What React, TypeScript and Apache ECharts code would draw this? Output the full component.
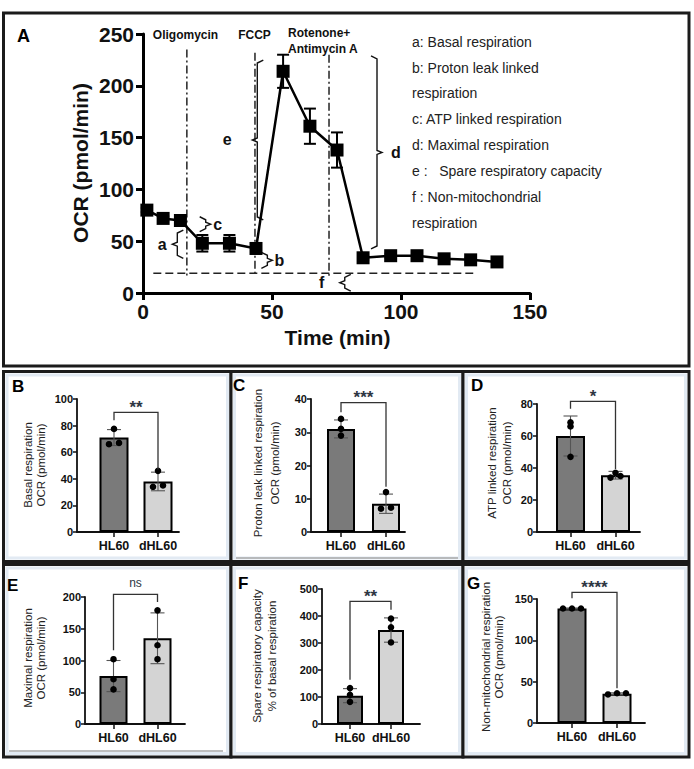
import React, { useEffect, useRef } from "react";
import * as echarts from "echarts";

const FONT = "'Liberation Sans', Arial, Helvetica, sans-serif";

// ---------- Panel A data ----------
const timeMin = [1.5, 7.8, 14.5, 23, 33.5, 43.8, 54.3, 64.7, 75.2, 85.3, 96, 106.2, 116.7, 127, 137.2];
const ocrMean = [80, 72, 70, 48, 48, 43, 214, 161, 138, 34, 36, 36, 33, 32, 30];
const ocrErr = [2, 2, 2, 8, 8, 5, 16, 17, 17, 2, 2, 2, 2, 2, 2];
const injectionNames = ["Oligomycin", "FCCP", "Rotenone+", "Antimycin A"];
const injectionTimes = [17, 43.4, 72.1];
const injectionTop = [235, 232, 230];
const injectionBottom = [17, 16, 16];
const nonMitoLevel = 19;
const nonMitoSpan = [4, 128];
const bracketLetters = ["a", "b", "c", "d", "e", "f"];
const bracketTime = [13.3, 48.2, 24.3, 90.7, 44.3, 78.2];
const bracketLow = [33.5, 23.8, 59.2, 42.5, 70.5, 1.9];
const bracketHigh = [60.8, 39.3, 73.6, 228.8, 224.9, 18];
const legendLines = [
  "a: Basal respiration",
  "b: Proton leak linked",
  "respiration",
  "c: ATP linked respiration",
  "d: Maximal respiration",
  "e :   Spare respiratory capacity",
  "f : Non-mitochondrial",
  "respiration",
];

// ---------- Panels B-G data ----------
const groups = ["HL60", "dHL60"];
const basalMean = [71, 38];
const basalSd = [6, 7];
const basalPoints = [[77.5, 66, 67], [46, 34, 35]];
const protonMean = [31, 8.5];
const protonSd = [2.7, 2.9];
const protonPoints = [[34, 31, 29], [12, 7, 7.3]];
const atpMean = [60, 35.5];
const atpSd = [12.5, 2.4];
const atpPoints = [[68.5, 66, 47], [37, 34, 35]];
const maximalMean = [75.5, 135];
const maximalSd = [24.5, 40];
const maximalPoints = [[102, 70.5, 54.5], [179, 124, 102]];
const spareMean = [105, 348];
const spareSd = [26, 45];
const sparePoints = [[133, 108, 82], [390, 358, 302]];
const nonMitoMean = [138.5, 35.5];
const nonMitoSd = [0.6, 1];
const nonMitoPoints = [[138.5, 138.5, 138.5], [34.5, 36, 36]];
const sigLabels = ["**", "***", "*", "ns", "**", "****"];
const sigLevels = [
  [84, 90, 47],
  [36, 38.9, 13.6],
  [77, 81.6, 39.4],
  [116, 204, 192],
  [164, 454, 423],
  [151, 158, 42],
];
const yMaxes = [100, 40, 80, 200, 500, 150];
const yIntervals = [20, 10, 20, 50, 100, 50];
const yTitles = [
  ["Basal respiration", "OCR (pmol/min)"],
  ["Proton leak linked respiration", "OCR (pmol/min)"],
  ["ATP linked respiration", "OCR (pmol/min)"],
  ["Maximal respiration", "OCR (pmol/min)"],
  ["Spare respiratory capacity", "% of basal respiration"],
  ["Non-mitochondrial respiration", "OCR (pmol/min)"],
];
const panelLetters = ["B", "C", "D", "E", "F", "G"];

const panelMeans = [basalMean, protonMean, atpMean, maximalMean, spareMean, nonMitoMean];
const panelSds = [basalSd, protonSd, atpSd, maximalSd, spareSd, nonMitoSd];
const panelPoints = [basalPoints, protonPoints, atpPoints, maximalPoints, sparePoints, nonMitoPoints];

// ---------- Layout (pixels) ----------
const layouts = [
  { xL: 77, xR: 179, c0: 114, c1: 158, top: 399, bottom: 532, barW: 29, t1: [28, 465], t2: [40.5, 465], letter: [12, 378], jit: [[0, -5, 5], [0, -5, 5]] },
  { xL: 311, xR: 405, c0: 341, c1: 386, top: 399, bottom: 532, barW: 28, t1: [258, 463], t2: [275, 463], letter: [233, 377], jit: [[0, 0, 0], [0, -5, 5]] },
  { xL: 537, xR: 640, c0: 570.5, c1: 615.5, top: 404, bottom: 532, barW: 29, t1: [491.5, 463], t2: [506.5, 463], letter: [471, 377], jit: [[0, 0, 0], [0, -5, 5]] },
  { xL: 85, xR: 185, c0: 113.5, c1: 157.5, top: 597, bottom: 724, barW: 28, t1: [27.5, 658], t2: [41, 658], letter: [7, 577], jit: [[0, 0, 0], [0, 0, 0]] },
  { xL: 322, xR: 420, c0: 350, c1: 391, top: 589, bottom: 724, barW: 26, t1: [257, 656], t2: [272, 656], letter: [238, 575], jit: [[0, 0, 0], [0, 0, 0]] },
  { xL: 537, xR: 645, c0: 572, c1: 617, top: 599, bottom: 723, barW: 29, t1: [486, 657], t2: [499, 657], letter: [467, 575], jit: [[-9, 0, 9], [-9, 0, 9]] },
];
const barColors = ["#7a7a7a", "#d4d4d4"];
const bracketSide = [-1, 1, 1, 1, -1, -1];
const bracketLabelOffset = [15, 12, 12, 19, 30, 23];
const legendY = [41.7, 68.3, 93.3, 119.3, 145, 170.7, 196.7, 223.3];

function buildOption() {
  const grids: any[] = [{ left: 143, top: 34, width: 387, height: 259 }];
  const xAxes: any[] = [
    {
      gridIndex: 0, type: "value", min: 0, max: 150, interval: 50,
      axisLine: { show: true, onZero: false, lineStyle: { color: "#000", width: 3 } },
      axisTick: { show: true, length: 7, lineStyle: { color: "#000", width: 3 } },
      axisLabel: { fontFamily: FONT, fontWeight: "bold", fontSize: 21, color: "#111", margin: 8 },
      splitLine: { show: false },
    },
  ];
  const yAxes: any[] = [
    {
      gridIndex: 0, type: "value", min: 0, max: 250, interval: 50,
      axisLine: { show: true, onZero: false, lineStyle: { color: "#000", width: 3 } },
      axisTick: { show: true, length: 7, lineStyle: { color: "#000", width: 3 } },
      axisLabel: { fontFamily: FONT, fontWeight: "bold", fontSize: 21, color: "#111", margin: 9 },
      splitLine: { show: false },
    },
  ];

  const series: any[] = [];

  injectionTimes.forEach((t, i) => {
    series.push({
      type: "line", xAxisIndex: 0, yAxisIndex: 0, symbol: "none", silent: true,
      data: [[t, injectionTop[i]], [t, injectionBottom[i]]],
      lineStyle: { color: "#222", width: 1.5, type: [8, 3, 2, 3] }, z: 2,
    });
  });
  series.push({
    type: "line", xAxisIndex: 0, yAxisIndex: 0, symbol: "none", silent: true,
    data: [[nonMitoSpan[0], nonMitoLevel], [nonMitoSpan[1], nonMitoLevel]],
    lineStyle: { color: "#222", width: 1.6, type: [8, 4] }, z: 2,
  });
  series.push({
    type: "custom", xAxisIndex: 0, yAxisIndex: 0, z: 3,
    data: timeMin.map((t, i) => [t, ocrMean[i], ocrErr[i]]),
    renderItem: (params: any, api: any) => {
      const x = api.value(0), m = api.value(1), e = api.value(2);
      const a = api.coord([x, m + e]);
      const b = api.coord([x, m - e]);
      const st = { stroke: "#000", lineWidth: 2 };
      return {
        type: "group",
        children: [
          { type: "line", shape: { x1: a[0], y1: a[1], x2: b[0], y2: b[1] }, style: st },
          { type: "line", shape: { x1: a[0] - 6, y1: a[1], x2: a[0] + 6, y2: a[1] }, style: st },
          { type: "line", shape: { x1: b[0] - 6, y1: b[1], x2: b[0] + 6, y2: b[1] }, style: st },
        ],
      };
    },
  });
  series.push({
    type: "line", xAxisIndex: 0, yAxisIndex: 0,
    data: timeMin.map((t, i) => [t, ocrMean[i]]),
    symbol: "rect", symbolSize: 13,
    itemStyle: { color: "#000" },
    lineStyle: { color: "#000", width: 2.5 }, z: 5,
  });
  series.push({
    type: "custom", xAxisIndex: 0, yAxisIndex: 0, z: 4,
    data: bracketTime.map((t, i) => [t, bracketLow[i], bracketHigh[i]]),
    renderItem: (params: any, api: any) => {
      const i = params.dataIndex;
      const p1 = api.coord([api.value(0), api.value(2)]);
      const p2 = api.coord([api.value(0), api.value(1)]);
      const s = bracketSide[i];
      const x = p1[0];
      const mid = (p1[1] + p2[1]) / 2;
      const e = 6, tip = 5;
      return {
        type: "group",
        children: [
          {
            type: "polyline",
            shape: {
              points: [
                [x - s * e, p1[1]], [x, p1[1] + 3], [x, mid - 2], [x + s * tip, mid],
                [x, mid + 2], [x, p2[1] - 3], [x - s * e, p2[1]],
              ],
            },
            style: { stroke: "#111", lineWidth: 1.4, fill: "none" },
          },
          {
            type: "text",
            style: {
              x: x + s * bracketLabelOffset[i], y: mid, text: bracketLetters[i],
              align: "center", verticalAlign: "middle",
              font: `bold 16px ${FONT}`, fill: "#111",
            },
          },
        ],
      };
    },
  });

  const graphics: any[] = [];
  const box = (x1: number, y1: number, x2: number, y2: number, inner: boolean) => {
    graphics.push({ type: "rect", shape: { x: x1, y: y1, width: x2 - x1, height: y2 - y1 }, style: { fill: "#fff", stroke: "#1b1b1b", lineWidth: 3 }, z: -10 });
    if (inner) {
      graphics.push({ type: "rect", shape: { x: x1 + 3.5, y: y1 + 3.5, width: x2 - x1 - 7, height: y2 - y1 - 7 }, style: { fill: "none", stroke: "#e2eaf3", lineWidth: 3 }, z: -9 });
    }
  };
  box(3.5, 13, 689, 366, false);
  box(3.5, 371.5, 231, 561.5, true);
  box(231, 371.5, 463, 561.5, true);
  box(463, 371.5, 689, 561.5, true);
  box(3.5, 564.5, 231, 757, true);
  box(231, 564.5, 463, 757, true);
  box(463, 564.5, 689, 757, true);
  graphics.push({ type: "line", shape: { x1: 236, y1: 558, x2: 458, y2: 558 }, style: { stroke: "#a8a8a8", lineWidth: 1.5 }, z: -8 });
  graphics.push({ type: "line", shape: { x1: 9, y1: 751, x2: 223, y2: 751 }, style: { stroke: "#a8a8a8", lineWidth: 1.5 }, z: -8 });

  graphics.push({ type: "text", x: 17, y: 27, style: { text: "A", font: `bold 18px ${FONT}`, fill: "#000" } });
  graphics.push({ type: "text", x: 80, y: 163, rotation: Math.PI / 2, style: { text: "OCR (pmol/min)", font: `bold 21px ${FONT}`, fill: "#111", align: "center", verticalAlign: "middle" } });
  graphics.push({ type: "text", x: 337.5, y: 337, style: { text: "Time (min)", font: `bold 21px ${FONT}`, fill: "#111", align: "center", verticalAlign: "middle" } });
  graphics.push({ type: "text", x: 185.5, y: 35, style: { text: injectionNames[0], font: `bold 12px ${FONT}`, fill: "#111", align: "center", verticalAlign: "middle" } });
  graphics.push({ type: "text", x: 254.5, y: 35, style: { text: injectionNames[1], font: `bold 12px ${FONT}`, fill: "#111", align: "center", verticalAlign: "middle" } });
  graphics.push({ type: "text", x: 288, y: 33, style: { text: injectionNames[2], font: `bold 12px ${FONT}`, fill: "#111", align: "left", verticalAlign: "middle" } });
  graphics.push({ type: "text", x: 288, y: 49, style: { text: injectionNames[3], font: `bold 12px ${FONT}`, fill: "#111", align: "left", verticalAlign: "middle" } });
  legendLines.forEach((t, i) => {
    graphics.push({ type: "text", x: 412, y: legendY[i], style: { text: t, font: `14px ${FONT}`, fill: "#222", align: "left", verticalAlign: "middle" } });
  });

  layouts.forEach((L, k) => {
    const gi = k + 1;
    const ppu = L.c1 - L.c0;
    grids.push({ left: L.xL, top: L.top, width: L.xR - L.xL, height: L.bottom - L.top });
    xAxes.push({
      gridIndex: gi, type: "value",
      min: -(L.c0 - L.xL) / ppu, max: 1 + (L.xR - L.c1) / ppu,
      axisLine: { show: true, onZero: false, lineStyle: { color: "#111", width: 1.8 } },
      axisTick: { show: true, customValues: [0, 1], length: 5, lineStyle: { color: "#111", width: 1.5 } },
      axisLabel: {
        show: true, customValues: [0, 1], formatter: (v: number) => groups[Math.round(v)] ?? "",
        fontFamily: FONT, fontWeight: "bold", fontSize: 12.5, color: "#111", margin: 7,
      },
      splitLine: { show: false },
    });
    yAxes.push({
      gridIndex: gi, type: "value", min: 0, max: yMaxes[k], interval: yIntervals[k],
      axisLine: { show: true, onZero: false, lineStyle: { color: "#111", width: 1.8 } },
      axisTick: { show: true, length: 4, lineStyle: { color: "#111", width: 1.5 } },
      axisLabel: { fontFamily: FONT, fontWeight: "bold", fontSize: 11, color: "#111", margin: 4 },
      splitLine: { show: false },
    });
    series.push({
      type: "bar", xAxisIndex: gi, yAxisIndex: gi, barWidth: L.barW,
      data: panelMeans[k].map((m, g) => ({ value: [g, m], itemStyle: { color: barColors[g] } })),
      itemStyle: { borderColor: "#000", borderWidth: 2 }, z: 2,
    });
    series.push({
      type: "custom", xAxisIndex: gi, yAxisIndex: gi, z: 3,
      data: panelMeans[k].map((m, g) => [g, m, panelSds[k][g]]),
      renderItem: (params: any, api: any) => {
        const x = api.value(0), m = api.value(1), e = api.value(2);
        const a = api.coord([x, m + e]);
        const b = api.coord([x, m - e]);
        const st = { stroke: "#555", lineWidth: 1.1 };
        return {
          type: "group",
          children: [
            { type: "line", shape: { x1: a[0], y1: a[1], x2: b[0], y2: b[1] }, style: st },
            { type: "line", shape: { x1: a[0] - 7, y1: a[1], x2: a[0] + 7, y2: a[1] }, style: st },
            { type: "line", shape: { x1: b[0] - 7, y1: b[1], x2: b[0] + 7, y2: b[1] }, style: st },
          ],
        };
      },
    });
    const dots: number[][] = [];
    panelPoints[k].forEach((arr, g) => arr.forEach((v, j) => dots.push([g, v, L.jit[g][j]])));
    series.push({
      type: "custom", xAxisIndex: gi, yAxisIndex: gi, z: 4,
      data: dots,
      renderItem: (params: any, api: any) => {
        const p = api.coord([api.value(0), api.value(1)]);
        return { type: "circle", shape: { cx: p[0] + api.value(2), cy: p[1], r: 3.3 }, style: { fill: "#000" } };
      },
    });
    const isNs = sigLabels[k] === "ns";
    series.push({
      type: "custom", xAxisIndex: gi, yAxisIndex: gi, z: 4, clip: false,
      data: [sigLevels[k]],
      renderItem: (params: any, api: any) => {
        const l = api.coord([0, api.value(0)]);
        const lt = api.coord([0, api.value(1)]);
        const rt = api.coord([1, api.value(1)]);
        const r = api.coord([1, api.value(2)]);
        return {
          type: "group",
          children: [
            { type: "polyline", shape: { points: [l, lt, rt, r] }, style: { stroke: "#333", lineWidth: 1.3, fill: "none" } },
            {
              type: "text",
              style: {
                x: (lt[0] + rt[0]) / 2, y: lt[1] - (isNs ? 11 : 5), text: sigLabels[k],
                align: "center", verticalAlign: "middle",
                font: isNs ? `12px ${FONT}` : `bold 17px ${FONT}`, fill: "#2e3642",
              },
            },
          ],
        };
      },
    });
    graphics.push({ type: "text", x: L.letter[0], y: L.letter[1], style: { text: panelLetters[k], font: `bold 17px ${FONT}`, fill: "#000" } });
    graphics.push({ type: "text", x: L.t1[0], y: L.t1[1], rotation: Math.PI / 2, style: { text: yTitles[k][0], font: `11.5px ${FONT}`, fill: "#222", align: "center", verticalAlign: "middle" } });
    graphics.push({ type: "text", x: L.t2[0], y: L.t2[1], rotation: Math.PI / 2, style: { text: yTitles[k][1], font: `11.5px ${FONT}`, fill: "#222", align: "center", verticalAlign: "middle" } });
  });

  return {
    animation: false,
    backgroundColor: "#fff",
    grid: grids,
    xAxis: xAxes,
    yAxis: yAxes,
    series,
    graphic: { elements: graphics },
  };
}

export default function App() {
  const ref = useRef<HTMLDivElement>(null);
  useEffect(() => {
    const chart = echarts.init(ref.current!, null, { renderer: "svg" });
    chart.setOption(buildOption() as any);
    return () => chart.dispose();
  }, []);
  return (
    <div
      ref={ref}
      style={{ position: "absolute", left: 0, top: 0, width: 694, height: 769, background: "#fff" }}
    />
  );
}
